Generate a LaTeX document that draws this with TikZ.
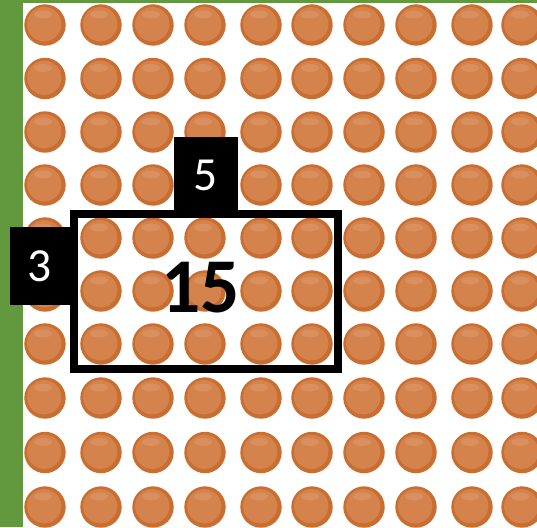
\documentclass[tikz,border=0pt]{standalone}
\usepackage{fontspec}
\setmainfont{Carlito}
\definecolor{grn}{HTML}{62993E}
\definecolor{orRim}{HTML}{C96D30}
\definecolor{orMain}{HTML}{D4834D}
\definecolor{orHi}{HTML}{E4A77E}
\tikzset{
  lblbox/.style={fill=black, text=white, inner sep=0pt,
    font=\fontsize{47.5}{50}\selectfont},
  framebox/.style={draw=black, line width=8pt, inner sep=0pt},
  bignum/.style={font=\fontsize{77.5}{80}\selectfont\bfseries, text=black, inner sep=0pt}
}
\begin{document}
\begin{tikzpicture}[x=1pt,y=-1pt]
\useasboundingbox (0,0) rectangle (537,527);
\fill[white] (0,0) rectangle (537,527);
\fill[grn] (0,0) rectangle (23,527);
\fill[grn] (23,0) rectangle (537,3);
\foreach \x in {45,101,153,205,261,312,364,416,472,522}
 \foreach \y in {25,78.5,132,185,238,291,344,398,452.5,507} {
  \fill[orRim] (\x,\y) circle (20.7pt);
  \fill[orMain] (\x-0.8,\y-0.8) circle (17.2pt);
  \fill[orHi, opacity=0.35] (\x-2,\y-10.5) ellipse (9pt and 4pt);
 }
\node[framebox, minimum width=264pt, minimum height=155pt] (frame) at (206,291.5) {};
\node[lblbox, minimum width=64pt, minimum height=77pt] (lblfive) at (206,175.5) {5};
\node[lblbox, minimum width=60pt, minimum height=78pt] (lblthree) at (40,266) {3};
\node[bignum] (total) at (200.5,287.5) {15};
\end{tikzpicture}
\end{document}
